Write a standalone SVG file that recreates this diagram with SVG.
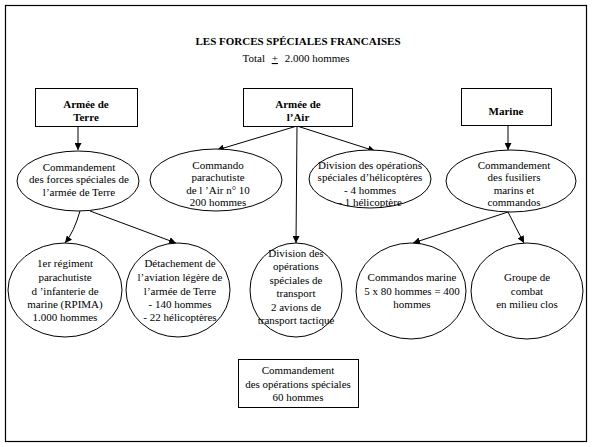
<svg xmlns="http://www.w3.org/2000/svg" width="592" height="447" viewBox="0 0 592 447" font-family="'Liberation Serif', 'DejaVu Serif', serif">
<style>
text{font-family:'Liberation Serif','DejaVu Serif',serif;font-size:11px;fill:#000;text-anchor:middle}
.b{font-weight:bold}
.n{fill:#fff;stroke:#000;stroke-width:1}
.c{fill:none;stroke:#000;stroke-width:1;marker-end:url(#ah)}
</style>
<defs>
<marker id="ah" viewBox="0 0 10 10" refX="10" refY="5" markerWidth="7" markerHeight="7" markerUnits="userSpaceOnUse" orient="auto">
<path d="M0,0 L10,5 L0,10 z" fill="#000"/>
</marker>
</defs>
<rect x="0" y="0" width="592" height="447" fill="#fff"/>
<rect x="5.5" y="5.5" width="581" height="436" fill="none" stroke="#000" stroke-width="1.2"/>
<g id="title">
<text class="b" x="298" y="45">LES FORCES SPÉCIALES FRANCAISES</text>
<text x="296" y="62">Total <tspan dx="4" text-decoration="underline">+</tspan> <tspan dx="4">2.000 hommes</tspan></text>
</g>
<g id="connectors">
<path class="c" d="M78,126 L78,150"/>
<path class="c" d="M297,126 L217,150"/>
<path class="c" d="M297,126 L375,151"/>
<path class="c" d="M297,126 L296,243"/>
<path class="c" d="M508,126 L508,150"/>
<path class="c" d="M80,211 Q74,232 65,243"/>
<path class="c" d="M90,211 L176,243"/>
<path class="c" d="M508,212 L413,243"/>
<path class="c" d="M508,212 Q516,228 524,243"/>
</g>
<g id="armee-terre">
<rect class="n" x="35.5" y="88.5" width="102" height="38"/>
<text class="b" x="86" y="108">Armée de</text>
<text class="b" x="86" y="121">Terre</text>
</g>
<g id="armee-air">
<rect class="n" x="243.5" y="88.5" width="109" height="38"/>
<text class="b" x="298" y="108">Armée de</text>
<text class="b" x="298" y="121">l’Air</text>
</g>
<g id="marine">
<rect class="n" x="461.5" y="88.5" width="90" height="37"/>
<text class="b" x="506" y="115">Marine</text>
</g>
<g id="cfst">
<ellipse class="n" cx="78" cy="181" rx="61" ry="30"/>
<text x="79" y="171">Commandement</text>
<text x="79" y="183">des forces spéciales de</text>
<text x="79" y="196">l’armée de Terre</text>
</g>
<g id="cpa10">
<ellipse class="n" cx="216" cy="180" rx="66" ry="31"/>
<text x="218" y="169">Commando</text>
<text x="218" y="181">parachutiste</text>
<text x="218" y="194">de l ’Air n° 10</text>
<text x="218" y="206">200 hommes</text>
</g>
<g id="dosh">
<ellipse class="n" cx="370" cy="179" rx="61" ry="29"/>
<text x="370" y="169">Division des opérations</text>
<text x="370" y="181">spéciales d’hélicoptères</text>
<text x="370" y="194">- 4 hommes</text>
<text x="370" y="206">- 1 hélicoptère</text>
</g>
<g id="cfmc">
<ellipse class="n" cx="511" cy="181" rx="65" ry="31"/>
<text x="514" y="169">Commandement</text>
<text x="514" y="181">des fusiliers</text>
<text x="514" y="194">marins et</text>
<text x="514" y="206">commandos</text>
</g>
<g id="rpima">
<ellipse class="n" cx="65" cy="290" rx="57" ry="47"/>
<text x="65" y="267">1er régiment</text>
<text x="65" y="281">parachutiste</text>
<text x="65" y="295">d ’infanterie de</text>
<text x="65" y="308">marine (RPIMA)</text>
<text x="65" y="321">1.000 hommes</text>
</g>
<g id="dalat">
<ellipse class="n" cx="178" cy="290" rx="52" ry="47"/>
<text x="180" y="267">Détachement de</text>
<text x="180" y="281">l’aviation légère de</text>
<text x="180" y="295">l’armée de Terre</text>
<text x="180" y="308">- 140 hommes</text>
<text x="180" y="321">- 22 hélicoptères</text>
</g>
<g id="dost">
<ellipse class="n" cx="296" cy="290" rx="46" ry="47"/>
<text x="296" y="257">Division des</text>
<text x="296" y="270">opérations</text>
<text x="296" y="284">spéciales de</text>
<text x="296" y="297">transport</text>
<text x="296" y="311">2 avions de</text>
<text x="296" y="324">transport tactique</text>
</g>
<g id="commandos-marine">
<ellipse class="n" cx="411" cy="291" rx="55" ry="48"/>
<text x="412" y="281">Commandos marine</text>
<text x="412" y="295">5 x 80 hommes = 400</text>
<text x="412" y="308">hommes</text>
</g>
<g id="groupe-combat">
<ellipse class="n" cx="527" cy="291" rx="56" ry="48"/>
<text x="527" y="281">Groupe de</text>
<text x="527" y="295">combat</text>
<text x="527" y="308">en milieu clos</text>
</g>
<g id="cos">
<rect class="n" x="238.5" y="359.5" width="120" height="48"/>
<text x="298" y="374">Commandement</text>
<text x="298" y="388">des opérations spéciales</text>
<text x="298" y="401">60 hommes</text>
</g>
</svg>
